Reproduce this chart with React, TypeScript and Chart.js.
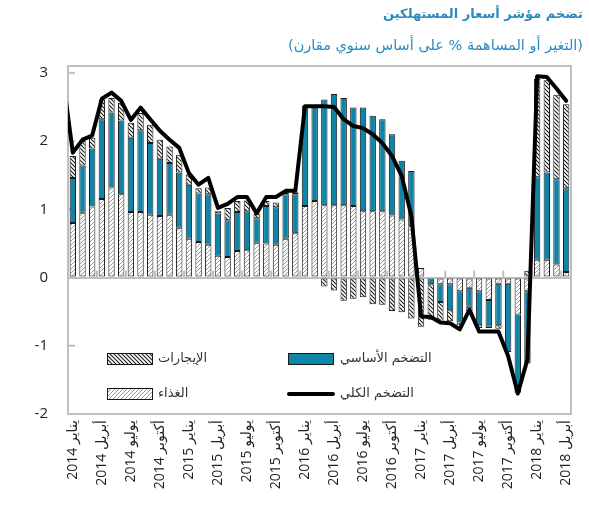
import React, { useEffect, useRef } from 'react';
import { Chart, registerables } from 'chart.js';

Chart.register(...registerables);

// Categories (index 0 is the month before the visible range; only the line uses it)
const labels: string[] = [
  'ديسمبر 2013',
  'يناير 2014', 'فبراير 2014', 'مارس 2014', 'أبريل 2014', 'مايو 2014', 'يونيو 2014',
  'يوليو 2014', 'أغسطس 2014', 'سبتمبر 2014', 'أكتوبر 2014', 'نوفمبر 2014', 'ديسمبر 2014',
  'يناير 2015', 'فبراير 2015', 'مارس 2015', 'أبريل 2015', 'مايو 2015', 'يونيو 2015',
  'يوليو 2015', 'أغسطس 2015', 'سبتمبر 2015', 'أكتوبر 2015', 'نوفمبر 2015', 'ديسمبر 2015',
  'يناير 2016', 'فبراير 2016', 'مارس 2016', 'أبريل 2016', 'مايو 2016', 'يونيو 2016',
  'يوليو 2016', 'أغسطس 2016', 'سبتمبر 2016', 'أكتوبر 2016', 'نوفمبر 2016', 'ديسمبر 2016',
  'يناير 2017', 'فبراير 2017', 'مارس 2017', 'أبريل 2017', 'مايو 2017', 'يونيو 2017',
  'يوليو 2017', 'أغسطس 2017', 'سبتمبر 2017', 'أكتوبر 2017', 'نوفمبر 2017', 'ديسمبر 2017',
  'يناير 2018', 'فبراير 2018', 'مارس 2018', 'أبريل 2018',
];

// Series values (% contribution / y-o-y change)
const food: (number | null)[] = [
  null,
  0.80, 0.95, 1.04, 1.15, 1.32, 1.22, 0.96, 0.96, 0.92, 0.90, 0.92, 0.73,
  0.57, 0.52, 0.48, 0.32, 0.30, 0.39, 0.40, 0.51, 0.50, 0.48, 0.57, 0.65,
  1.05, 1.12, 1.06, 1.06, 1.06, 1.05, 0.97, 0.97, 0.97, 0.91, 0.85, 0.75,
  0.14, 0, -0.10, -0.10, -0.20, -0.15, -0.20, -0.33, -0.09, -0.09, -0.54, -0.20,
  0.26, 0.26, 0.19, 0.08,
];
const core: (number | null)[] = [
  null,
  0.66, 0.69, 0.85, 1.17, 1.10, 1.08, 1.09, 1.20, 1.05, 0.84, 0.76, 0.81,
  0.79, 0.71, 0.74, 0.62, 0.54, 0.57, 0.57, 0.36, 0.55, 0.55, 0.65, 0.57,
  1.47, 1.40, 1.55, 1.63, 1.57, 1.44, 1.52, 1.40, 1.35, 1.19, 0.86, 0.81,
  0, -0.10, -0.26, -0.38, -0.46, -0.28, -0.50, -0.39, -0.61, -1.00, -1.15, -1.06,
  1.21, 1.28, 1.25, 1.23,
];
const rents: (number | null)[] = [
  null,
  0.32, 0.36, 0.16, 0.29, 0.21, 0.26, 0.22, 0.25, 0.27, 0.28, 0.24, 0.26,
  0.15, 0.08, 0.10, 0.03, 0.18, 0.16, 0.16, 0.07, 0.07, 0.07, 0.03, 0.03,
  0, 0, -0.13, -0.19, -0.34, -0.31, -0.29, -0.39, -0.40, -0.49, -0.51, -0.60,
  -0.72, -0.52, -0.27, -0.16, -0.04, -0.06, -0.04, -0.02, -0.05, 0, 0, 0.10,
  1.44, 1.35, 1.24, 1.23,
];
const headline: number[] = [
  2.90,
  1.83, 2.02, 2.08, 2.62, 2.71, 2.59, 2.31, 2.49, 2.32, 2.15, 2.02, 1.90,
  1.53, 1.36, 1.46, 1.02, 1.08, 1.18, 1.18, 0.94, 1.18, 1.18, 1.27, 1.27,
  2.51, 2.51, 2.51, 2.50, 2.32, 2.22, 2.19, 2.10, 1.97, 1.78, 1.49, 0.90,
  -0.57, -0.58, -0.66, -0.67, -0.76, -0.47, -0.79, -0.79, -0.79, -1.15, -1.70, -1.20,
  2.95, 2.94, 2.77, 2.59,
];

const yTicks: number[] = [-2, -1, 0, 1, 2, 3];

const TITLE = 'تضخم مؤشر أسعار المستهلكين';
const SUBTITLE = '(التغير أو المساهمة % على أساس سنوي مقارن)';
const L_RENTS = 'الإيجارات';
const L_FOOD = 'الغذاء';
const L_CORE = 'التضخم الأساسي';
const L_TOTAL = 'التضخم الكلي';

const TEAL = '#0E84A7';
const TITLE_COLOR = '#2A8BC0';
const GRAY = '#BFBFBF';

function hatch(color: string, forward: boolean, size: number, lw: number): CanvasPattern | string {
  const c = document.createElement('canvas');
  c.width = size;
  c.height = size;
  const g = c.getContext('2d');
  if (!g) return color;
  g.fillStyle = '#ffffff';
  g.fillRect(0, 0, size, size);
  g.strokeStyle = color;
  g.lineWidth = lw;
  g.beginPath();
  if (forward) {
    g.moveTo(-1, size + 1); g.lineTo(size + 1, -1);
    g.moveTo(-1, 1); g.lineTo(1, -1);
    g.moveTo(size - 1, size + 1); g.lineTo(size + 1, size - 1);
  } else {
    g.moveTo(-1, -1); g.lineTo(size + 1, size + 1);
    g.moveTo(size - 1, -1); g.lineTo(size + 1, 1);
    g.moveTo(-1, size - 1); g.lineTo(1, size + 1);
  }
  g.stroke();
  const p = g.createPattern(c, 'repeat');
  return p || color;
}

export default function App() {
  const ref = useRef<HTMLCanvasElement>(null);

  useEffect(() => {
    const canvas = ref.current;
    if (!canvas) return;
    const foodPat = hatch('#6CBF45', true, 4, 1);
    const rentPat = hatch('#1a1a1a', false, 4, 1.1);

    const framePlugin = {
      id: 'framePlugin',
      beforeDatasetsDraw(chart: any) {
        const { ctx, chartArea: a, scales } = chart;
        const xs = scales.x;
        const ys = scales.y;
        ctx.save();
        ctx.strokeStyle = GRAY;
        ctx.lineWidth = 2;
        ctx.strokeRect(a.left, a.top, a.right - a.left, a.bottom - a.top);
        yTicks.forEach((v) => {
          const y = ys.getPixelForValue(v);
          ctx.beginPath();
          ctx.moveTo(a.left, y);
          ctx.lineTo(a.left + 7, y);
          ctx.stroke();
        });
        const y0 = ys.getPixelForValue(0);
        for (let i = 2; i < labels.length; i++) {
          if ((i - 1) % 3 !== 0) continue;
          const x = (xs.getPixelForValue(i - 1) + xs.getPixelForValue(i)) / 2;
          ctx.beginPath();
          ctx.moveTo(x, y0);
          ctx.lineTo(x, y0 - 7);
          ctx.stroke();
        }
        ctx.restore();
      },
      afterDraw(chart: any) {
        const { ctx } = chart;
        ctx.save();
        // title & subtitle
        ctx.fillStyle = TITLE_COLOR;
        ctx.textBaseline = 'middle';
        ctx.textAlign = 'right';
        ctx.font = 'bold 13px "DejaVu Sans"';
        ctx.fillText(TITLE, 583, 15);
        ctx.font = '14.5px "DejaVu Sans"';
        ctx.fillText(SUBTITLE, 583, 46);
        // legend
        ctx.lineWidth = 1;
        ctx.strokeStyle = '#1a1a1a';
        const box = (x: number, y: number, fill: any) => {
          ctx.fillStyle = fill;
          ctx.fillRect(x, y, 46, 12);
          ctx.strokeRect(x + 0.5, y + 0.5, 45, 11);
        };
        box(107, 353, rentPat);
        box(107, 388, foodPat);
        box(288, 353, TEAL);
        ctx.beginPath();
        ctx.lineWidth = 4;
        ctx.lineCap = 'round';
        ctx.strokeStyle = '#000';
        ctx.moveTo(289, 394);
        ctx.lineTo(333, 394);
        ctx.stroke();
        ctx.fillStyle = '#333';
        ctx.font = '13px "DejaVu Sans"';
        ctx.textBaseline = 'middle';
        ctx.textAlign = 'left';
        ctx.fillText(L_RENTS, 158, 359);
        ctx.fillText(L_FOOD, 158, 394);
        ctx.fillText(L_CORE, 340, 359);
        ctx.fillText(L_TOTAL, 340, 394);
        ctx.restore();
      },
    };

    const barCommon = {
      type: 'bar' as const,
      borderColor: '#1a1a1a',
      borderWidth: 1,
      borderSkipped: false,
      barPercentage: 0.66,
      categoryPercentage: 1.0,
      order: 1,
      stack: 'bars',
    };

    const chart = new Chart(canvas, {
      type: 'bar',
      data: {
        labels,
        datasets: [
          {
            type: 'line',
            label: L_TOTAL,
            data: headline,
            borderColor: '#000000',
            backgroundColor: '#000000',
            borderWidth: 4,
            pointRadius: 0,
            tension: 0,
            borderJoinStyle: 'round',
            borderCapStyle: 'round',
            order: 0,
            stack: 'line',
          } as any,
          { ...barCommon, label: L_FOOD, data: food, backgroundColor: foodPat } as any,
          { ...barCommon, label: L_CORE, data: core, backgroundColor: TEAL } as any,
          { ...barCommon, label: L_RENTS, data: rents, backgroundColor: rentPat } as any,
        ],
      },
      options: {
        responsive: false,
        animation: false,
        devicePixelRatio: 1,
        layout: { padding: { left: 0, right: 5, top: 66, bottom: 0 } },
        plugins: {
          legend: { display: false },
          tooltip: { enabled: false },
          title: { display: false },
        },
        scales: {
          x: {
            type: 'category',
            min: labels[1],
            offset: true,
            stacked: true,
            grid: { display: false, drawTicks: false },
            border: { display: false },
            ticks: {
              autoSkip: false,
              maxRotation: 90,
              minRotation: 90,
              padding: 6,
              color: '#222',
              font: { family: '"Open Sans", "DejaVu Sans"', size: 14 },
              callback: (value: any) => {
                const i = Number(value);
                return (i - 1) % 3 === 0 ? labels[i] : '';
              },
            },
            afterFit: (s: any) => { s.height = 94; },
          },
          y: {
            min: -2,
            max: 3.1,
            stacked: true,
            border: { display: false },
            grid: {
              drawTicks: false,
              lineWidth: 2,
              color: (c: any) => (c.tick && c.tick.value === 0 ? GRAY : 'rgba(0,0,0,0)'),
            },
            ticks: {
              stepSize: 1,
              includeBounds: false,
              padding: 20,
              color: '#222',
              font: { family: '"Open Sans", "DejaVu Sans"', size: 15 },
            },
            afterFit: (s: any) => { s.width = 68; },
          },
        },
      },
      plugins: [framePlugin],
    } as any);

    return () => chart.destroy();
  }, []);

  return (
    <div style={{ position: 'absolute', left: 0, top: 0, width: 589, height: 508 }}>
      <canvas ref={ref} width={589} height={508} style={{ display: 'block', width: 589, height: 508 }} />
    </div>
  );
}
